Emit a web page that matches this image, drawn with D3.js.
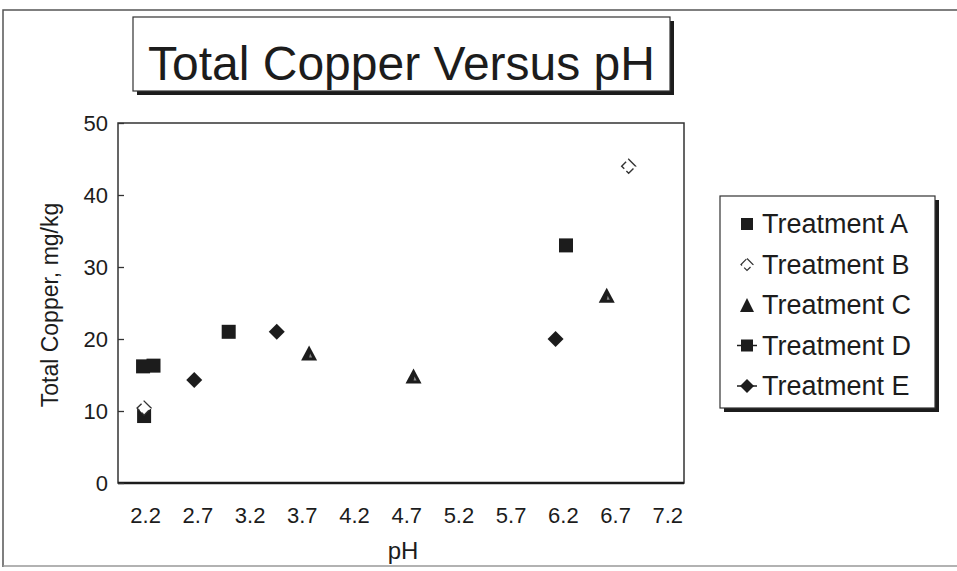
<!DOCTYPE html>
<html>
<head>
<meta charset="utf-8">
<script src="https://cdn.jsdelivr.net/npm/d3@7"></script>
<style>
  body { margin: 0; background: #fff; }
  svg { font-family: "Liberation Sans", Arial, sans-serif; }
</style>
</head>
<body>
<div id="chart"></div>
<script>
// values
var phTicks = [2.2, 2.7, 3.2, 3.7, 4.2, 4.7, 5.2, 5.7, 6.2, 6.7, 7.2];
var copperTicks = [0, 10, 20, 30, 40, 50];

var treatmentA = [[2.19, 9.3], [3.0, 21.0], [6.23, 33.0]];
var treatmentB = [[2.19, 10.4], [6.83, 44.0]];
var treatmentC = [[3.77, 18.0], [4.77, 14.8], [6.62, 26.0]];
var treatmentD = [[2.18, 16.2], [2.28, 16.3]];
var treatmentE = [[2.67, 14.3], [3.46, 21.0], [6.13, 20.0]];

var seriesNames = ["Treatment A", "Treatment B", "Treatment C", "Treatment D", "Treatment E"];
var seriesData = [treatmentA, treatmentB, treatmentC, treatmentD, treatmentE];
var seriesShapes = ["squareA", "openDiamond", "triangle", "squareD", "diamond"];

var W = 957, H = 571;
var ink = "#1c1c1c";

var svg = d3.select("#chart").append("svg")
    .attr("width", W)
    .attr("height", H);

// outer frame (runs off the right edge)
svg.append("path")
    .attr("d", "M3,567 L3,10 L960,10")
    .attr("fill", "none").attr("stroke", "#555").attr("stroke-width", 1.5);
svg.append("line")
    .attr("x1", 3).attr("x2", 960).attr("y1", 566).attr("y2", 566)
    .attr("stroke", "#999").attr("stroke-width", 1.5);

var plot = {left: 118, right: 684, top: 123, bottom: 483};

var x = d3.scaleLinear()
    .domain([1.94, 7.36])
    .range([plot.left, plot.right]);
var y = d3.scaleLinear()
    .domain([0, 50])
    .range([plot.bottom, plot.top]);

// plot box
svg.append("rect")
    .attr("x", plot.left).attr("y", plot.top)
    .attr("width", plot.right - plot.left).attr("height", plot.bottom - plot.top)
    .attr("fill", "none").attr("stroke", "#333").attr("stroke-width", 1.5);
svg.append("line")
    .attr("x1", plot.left).attr("x2", plot.right)
    .attr("y1", plot.bottom).attr("y2", plot.bottom)
    .attr("stroke", ink).attr("stroke-width", 2.5);

// y axis
var yAxis = svg.append("g")
    .attr("transform", `translate(${plot.left},0)`)
    .call(d3.axisLeft(y).tickValues(copperTicks).tickSize(-6).tickPadding(10));
yAxis.select(".domain").remove();
yAxis.attr("font-size", null).attr("font-family", null);
yAxis.selectAll("line").attr("stroke", "#333").attr("stroke-width", 1.3);
yAxis.selectAll("text")
    .attr("fill", ink)
    .style("font-size", "22px");

// x axis (labels only)
var xAxis = svg.append("g")
    .attr("transform", `translate(0,${plot.bottom})`)
    .call(d3.axisBottom(x).tickValues(phTicks).tickFormat(d3.format(".1f")).tickSize(0).tickPadding(24));
xAxis.select(".domain").remove();
xAxis.attr("font-size", null).attr("font-family", null);
xAxis.selectAll("text")
    .attr("fill", ink)
    .style("font-size", "22px");

// axis titles
svg.append("text")
    .attr("x", 403).attr("y", 559)
    .attr("text-anchor", "middle")
    .style("font-size", "24px").attr("fill", ink)
    .text("pH");
svg.append("text")
    .attr("transform", "translate(58,305) rotate(-90)")
    .attr("text-anchor", "middle")
    .style("font-size", "23px").attr("fill", ink)
    .text("Total Copper, mg/kg");

// title box with drop shadow
var tb = {x: 133, y: 17, w: 537, h: 74};
svg.append("rect")
    .attr("x", tb.x + 4).attr("y", tb.y + 4).attr("width", tb.w).attr("height", tb.h)
    .attr("fill", ink);
svg.append("rect")
    .attr("x", tb.x).attr("y", tb.y).attr("width", tb.w).attr("height", tb.h)
    .attr("fill", "#fff").attr("stroke", "#333").attr("stroke-width", 1.2);
svg.append("text")
    .attr("x", tb.x + tb.w / 2).attr("y", 80)
    .attr("text-anchor", "middle")
    .style("font-size", "48px").attr("fill", ink)
    .text("Total Copper Versus pH");

// marker shapes
function drawMarker(g, shape, cx, cy) {
  var s = 7;
  if (shape === "squareA" || shape === "squareD") {
    g.append("rect")
      .attr("x", cx - s).attr("y", cy - s).attr("width", 2 * s).attr("height", 2 * s)
      .attr("fill", ink);
  } else if (shape === "triangle") {
    g.append("path")
      .attr("d", `M${cx},${cy - 8} L${cx + 8},${cy + 7} L${cx - 8},${cy + 7} Z`)
      .attr("fill", ink);
    g.append("path")
      .attr("d", `M${cx + 1},${cy} L${cx + 3},${cy + 4} L${cx},${cy + 4} Z`)
      .attr("fill", "#888");
  } else if (shape === "diamond") {
    g.append("path")
      .attr("d", `M${cx},${cy - 8} L${cx + 8},${cy} L${cx},${cy + 8} L${cx - 8},${cy} Z`)
      .attr("fill", ink);
  } else if (shape === "openDiamond") {
    g.append("path")
      .attr("d", `M${cx},${cy - 7} L${cx + 7},${cy} L${cx},${cy + 7} L${cx - 7},${cy} Z`)
      .attr("fill", "#fff").attr("stroke", "#333").attr("stroke-width", 1.4)
      .attr("stroke-dasharray", "10,3");
  }
}

// draw the points
var pts = svg.append("g").attr("class", "points");
seriesData.forEach(function(data, i) {
  data.forEach(function(d) {
    drawMarker(pts, seriesShapes[i], x(d[0]), y(d[1]));
  });
});

// legend with drop shadow
var lg = {x: 720, y: 196, w: 215, h: 212};
svg.append("rect")
    .attr("x", lg.x + 4).attr("y", lg.y + 4).attr("width", lg.w).attr("height", lg.h)
    .attr("fill", ink);
svg.append("rect")
    .attr("x", lg.x).attr("y", lg.y).attr("width", lg.w).attr("height", lg.h)
    .attr("fill", "#fff").attr("stroke", "#333").attr("stroke-width", 1.2);

var legendY = d3.scalePoint()
    .domain(seriesNames)
    .range([224, 386]);

seriesNames.forEach(function(name, i) {
  var ly = legendY(name);
  var g = svg.append("g");
  if (seriesShapes[i] === "squareD" || seriesShapes[i] === "diamond") {
    g.append("line")
      .attr("x1", 737).attr("x2", 757).attr("y1", ly).attr("y2", ly)
      .attr("stroke", ink).attr("stroke-width", 1.5);
  }
  var shape = seriesShapes[i];
  if (shape === "squareA" || shape === "squareD") {
    g.append("rect").attr("x", 741).attr("y", ly - 6).attr("width", 12).attr("height", 12).attr("fill", ink);
  } else if (shape === "diamond") {
    g.append("path").attr("d", `M747,${ly - 7} L754,${ly} L747,${ly + 7} L740,${ly} Z`).attr("fill", ink);
  } else if (shape === "triangle") {
    g.append("path").attr("d", `M747,${ly - 7} L754,${ly + 7} L740,${ly + 7} Z`).attr("fill", ink);
  } else {
    g.append("path").attr("d", `M747,${ly - 6} L753,${ly} L747,${ly + 6} L741,${ly} Z`)
      .attr("fill", "#fff").attr("stroke", "#333").attr("stroke-width", 1.2)
      .attr("stroke-dasharray", "9,3");
  }
  g.append("text")
    .attr("x", 762).attr("y", ly + 9)
    .style("font-size", "27px").attr("fill", ink)
    .text(name);
});
</script>
</body>
</html>
